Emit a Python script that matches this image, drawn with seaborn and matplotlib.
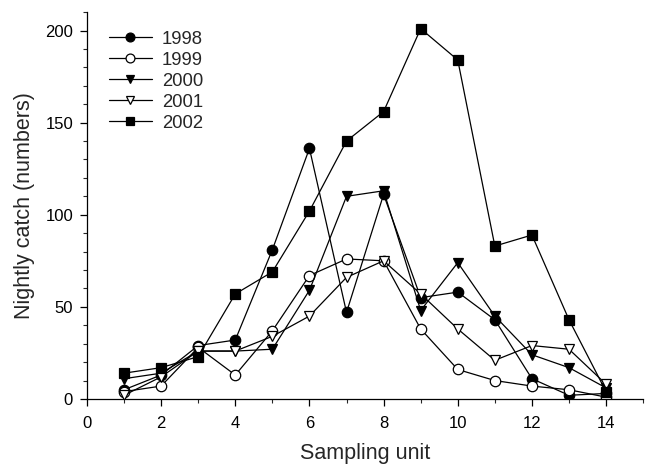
# Captura nocturna por unidad de muestreo, 1998-2002
import matplotlib
matplotlib.use("Agg")
import matplotlib.pyplot as plt
import seaborn as sns
from matplotlib.ticker import MultipleLocator

# -------------------------------------------------------------
# DATOS
# -------------------------------------------------------------

unidad = [1, 2, 3, 4, 5, 6, 7, 8, 9, 10, 11, 12, 13, 14]

captura_1998 = [5, 13, 29, 32, 81, 136, 47, 111, 55, 58, 43, 11, 2, 3]
captura_1999 = [4, 7, 28, 13, 37, 67, 76, 75, 38, 16, 10, 7, 5, 1]
captura_2000 = [11, 14, 26, 26, 27, 59, 110, 113, 48, 74, 45, 24, 17, 6]
captura_2001 = [2, 12, 26, 26, 34, 45, 66, 75, 57, 38, 21, 29, 27, 8]
captura_2002 = [14, 17, 23, 57, 69, 102, 140, 156, 201, 184, 83, 89, 43, 4]

SERIES = [
    ("1998", captura_1998, "o", "black"),
    ("1999", captura_1999, "o", "white"),
    ("2000", captura_2000, "v", "black"),
    ("2001", captura_2001, "v", "white"),
    ("2002", captura_2002, "s", "black"),
]

# -------------------------------------------------------------
# FIGURA
# -------------------------------------------------------------

sns.set_style("ticks")
plt.rcParams["font.family"] = ["Liberation Sans", "DejaVu Sans"]

fig = plt.figure(figsize=(6.49, 4.65), dpi=100)
ax = fig.add_axes([0.134, 0.142, 0.857, 0.832])

for nombre, valores, marcador, relleno in SERIES:
    tam = 6.5 if marcador == "s" else 7.5
    sns.lineplot(
        x=unidad, y=valores, ax=ax,
        color="black", linewidth=0.9,
        marker=marcador, markersize=tam,
        markerfacecolor=relleno, markeredgecolor="black",
        markeredgewidth=0.9, label=nombre,
    )

ax.set_xlim(0, 15)
ax.set_ylim(0, 210)
ax.xaxis.set_major_locator(MultipleLocator(2))
ax.xaxis.set_minor_locator(MultipleLocator(1))
ax.yaxis.set_major_locator(MultipleLocator(50))
ax.yaxis.set_minor_locator(MultipleLocator(10))
ax.set_yticks([0, 50, 100, 150, 200])
ax.tick_params(which="major", direction="out", length=5, width=0.9,
               labelsize=12, colors="black")
ax.tick_params(which="minor", direction="out", length=3, width=0.8)
ax.tick_params(axis="x", which="major", pad=7)
ax.tick_params(axis="y", which="major", pad=5)

for lado in ["top", "right"]:
    ax.spines[lado].set_visible(False)
for lado in ["left", "bottom"]:
    ax.spines[lado].set_linewidth(0.9)
    ax.spines[lado].set_color("black")

ax.set_xlabel("Sampling unit", fontsize=15.5, labelpad=9)
ax.set_ylabel("Nightly catch (numbers)", fontsize=15.5, labelpad=7)

ax.legend(
    loc="upper left", bbox_to_anchor=(0.01, 0.995),
    frameon=False, fontsize=13.3, handlelength=2.3,
    labelspacing=0.22, handletextpad=0.55, markerscale=0.85,
)

plt.savefig("out.png", dpi=100)
plt.close()
